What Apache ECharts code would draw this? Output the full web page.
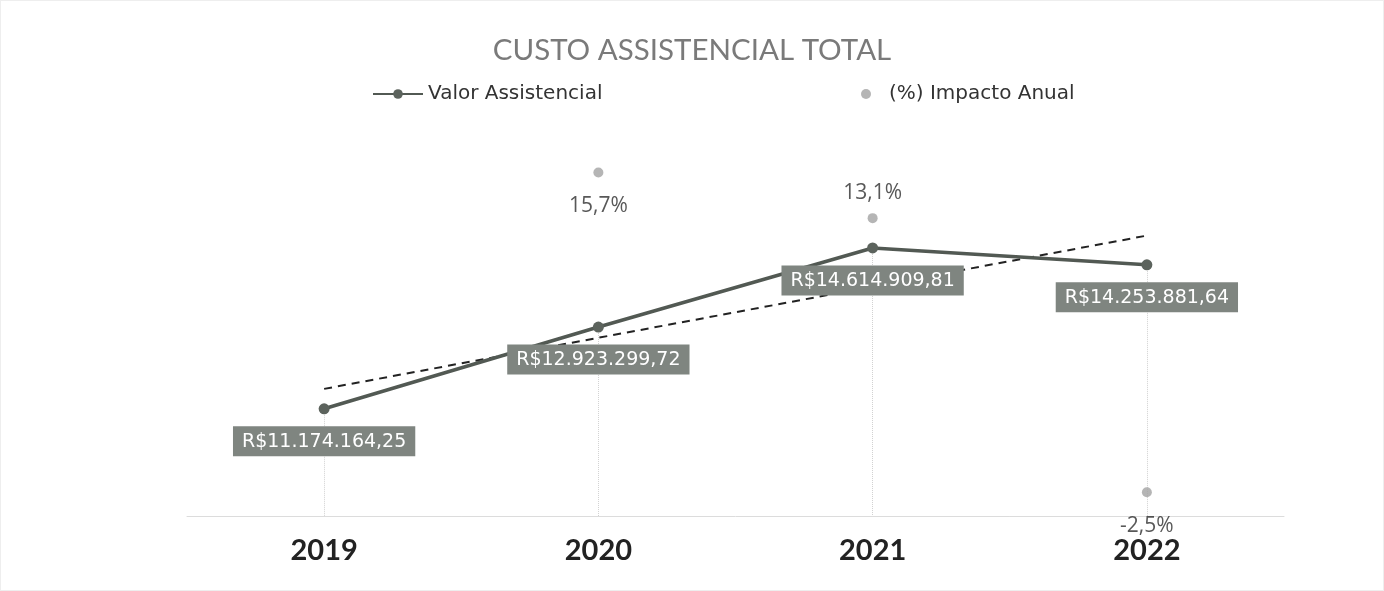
<!DOCTYPE html>
<html>
<head>
<meta charset="utf-8">
<script src="https://cdn.jsdelivr.net/npm/echarts@6/dist/echarts.min.js"></script>
<style>
html,body{margin:0;padding:0;background:#fff;}
#c{width:1384px;height:591px;box-sizing:border-box;border:1px solid #eee;}
</style>
</head>
<body>
<div id="c"></div>
<script>
const categories = ['2019', '2020', '2021', '2022'];
const valorAssistencial = [11174164.25, 12923299.72, 14614909.81, 14253881.64];
const impactoAnual = [null, 15.7, 13.1, -2.5];
const trendEnds = [['2019', 11600000], ['2022', 14880000]];
const pctLabelPos = [null, 'bottom', 'top', 'bottom'];

function fmtBRL(v) {
  const parts = v.toFixed(2).split('.');
  const intPart = parts[0].replace(/\B(?=(\d{3})+(?!\d))/g, '.');
  return 'R$' + intPart + ',' + parts[1];
}
function fmtPct(v) { return v.toFixed(1).replace('.', ',') + '%'; }

const yMin = 8880000, yMax = 16690000;
const pMin = -3.85, pMax = 16.92;

const chart = echarts.init(document.getElementById('c'));
const dropLines = categories.map((c, i) => [
  { coord: [c, valorAssistencial[i]] },
  { coord: [c, yMin] }
]);

chart.setOption({
  animation: false,
  backgroundColor: '#fff',
  textStyle: { fontFamily: '"DejaVu Sans", sans-serif' },
  title: {
    text: 'CUSTO ASSISTENCIAL TOTAL',
    left: 'center', top: 29,
    textStyle: { fontSize: 29.5, fontWeight: 'normal', color: '#7a7a7a', fontFamily: 'Lato, sans-serif' }
  },
  legend: [{
    data: ['Valor Assistencial'],
    left: 366, top: 78,
    itemWidth: 50, itemHeight: 12,
    textStyle: { fontSize: 20, color: '#333', fontFamily: '"DejaVu Sans", sans-serif' }
  }, {
    data: ['(%) Impacto Anual'],
    left: 855, top: 78,
    itemWidth: 12, itemHeight: 10,
    textStyle: { fontSize: 20, color: '#333', padding: [0, 0, 0, 12], fontFamily: '"DejaVu Sans", sans-serif' }
  }],
  grid: { left: 186, right: 99, top: 150, bottom: 74 },
  xAxis: {
    type: 'category',
    data: categories,
    boundaryGap: true,
    axisLine: { onZero: false, lineStyle: { color: '#dcdcdc', width: 1 } },
    axisTick: { show: false },
    axisLabel: { fontSize: 29, fontWeight: 'bold', color: '#222', margin: 20, fontFamily: 'Lato, sans-serif' }
  },
  yAxis: [{
    type: 'value', min: yMin, max: yMax,
    show: false, splitLine: { show: false }
  }, {
    type: 'value', min: pMin, max: pMax,
    show: false, splitLine: { show: false }
  }],
  series: [{
    name: 'Valor Assistencial',
    type: 'line',
    data: valorAssistencial,
    yAxisIndex: 0,
    z: 5,
    symbol: 'circle', symbolSize: 11,
    lineStyle: { color: '#525953', width: 3.5 },
    itemStyle: { color: '#5c635d' },
    label: {
      show: true, position: 'bottom', distance: 12,
      formatter: p => fmtBRL(p.value),
      backgroundColor: '#7f8580', color: '#fff',
      fontSize: 19, padding: [6, 9, 5, 9],
      fontFamily: '"DejaVu Sans", sans-serif'
    },
    markLine: {
      silent: true, symbol: 'none', label: { show: false },
      lineStyle: { color: '#d2d2d2', type: 'dotted', width: 1 },
      data: dropLines,
      z: 1
    }
  }, {
    name: 'Tendência',
    type: 'line',
    data: trendEnds,
    yAxisIndex: 0,
    z: 4,
    symbol: 'none',
    lineStyle: { color: '#222', width: 2, type: [8, 6] },
    tooltip: { show: false }
  }, {
    name: '(%) Impacto Anual',
    type: 'scatter',
    yAxisIndex: 1,
    symbolSize: 10,
    itemStyle: { color: '#a3a3a3' },
    data: impactoAnual.map((v, i) => v === null ? null : {
      value: v,
      label: { position: pctLabelPos[i], distance: pctLabelPos[i] === 'top' ? 10 : 18 }
    }),
    label: {
      show: true, formatter: p => fmtPct(p.value),
      fontSize: 21, color: '#2e2e2e', fontFamily: '"Open Sans", sans-serif'
    }
  }]
});
</script>
</body>
</html>
